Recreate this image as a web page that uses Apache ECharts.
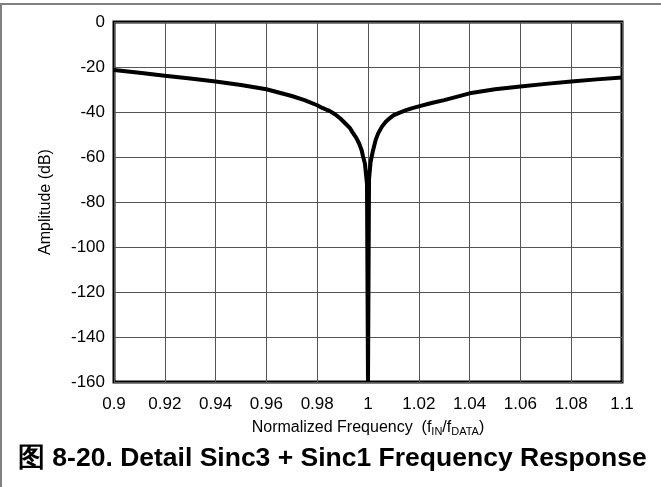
<!DOCTYPE html>
<html>
<head>
<meta charset="utf-8">
<script src="https://cdn.jsdelivr.net/npm/echarts@6/dist/echarts.min.js"></script>
<style>
  html, body { margin: 0; padding: 0; background: #fff; }
  #chart { width: 661px; height: 487px; }
</style>
</head>
<body>
<div id="chart"></div>
<script>
// 读图得到的数据 (归一化频率, 幅度 dB)
const freq = [
  0.90, 0.91, 0.92, 0.93, 0.94, 0.95, 0.96, 0.97, 0.975, 0.98,
  0.982, 0.985, 0.987, 0.989, 0.991, 0.993, 0.994, 0.9955, 0.9965,
  0.9975, 0.998, 0.9988, 0.9996, 1.0,
  1.0004, 1.001, 1.0015, 1.002, 1.003, 1.004, 1.0055, 1.007, 1.0085,
  1.01, 1.0125, 1.015, 1.0175, 1.02, 1.025,
  1.03, 1.04, 1.05, 1.06, 1.07, 1.08, 1.09, 1.10
];
const amplitude = [
  -21.3, -22.6, -23.9, -25.1, -26.4, -28.0, -29.9, -32.9, -34.7, -37.0,
  -38.2, -39.6, -41.0, -42.8, -45.0, -47.3, -49.2, -51.7, -54.0,
  -57.0, -59.5, -63.0, -72.0, -160,
  -70.0, -62.5, -59.5, -57.0, -52.5, -49.5, -46.5, -44.3, -42.8,
  -41.5, -40.3, -39.2, -38.3, -37.5, -36.0,
  -34.7, -31.7, -29.9, -28.7, -27.5, -26.4, -25.5, -24.7
];
const xTicks = { min: 0.9, max: 1.1, step: 0.02 };
const yTicks = { min: -160, max: 0, step: 20 };
const titleText = '图 8-20. Detail Sinc3 + Sinc1 Frequency Response';

const chart = echarts.init(document.getElementById('chart'));
const font = 'Liberation Sans, Arial, Helvetica, sans-serif';

chart.setOption({
  backgroundColor: '#fff',
  animation: false,
  grid: {
    left: 114, right: 39, top: 22, bottom: 105,
    show: true, borderColor: '#000', borderWidth: 3, backgroundColor: 'transparent'
  },
  xAxis: {
    type: 'value',
    min: xTicks.min, max: xTicks.max, interval: xTicks.step,
    axisLine: { show: false },
    axisTick: { show: false },
    splitLine: { show: true, lineStyle: { color: '#555', width: 1 } },
    axisLabel: {
      color: '#000', fontSize: 17, fontFamily: font, margin: 14,
      formatter: v => String(+v.toFixed(2))
    },
    name: '{n|Normalized Frequency  (f}{s|IN}{n|/f}{s|DATA}{n|)}',
    nameLocation: 'middle',
    nameGap: 36,
    nameTextStyle: {
      rich: {
        n: { fontSize: 16, fontFamily: font, color: '#000' },
        s: { fontSize: 11, fontFamily: font, color: '#000', padding: [8, 0, 0, 0] }
      }
    }
  },
  yAxis: {
    type: 'value',
    min: yTicks.min, max: yTicks.max, interval: yTicks.step,
    axisLine: { show: false },
    axisTick: { show: false },
    splitLine: { show: true, lineStyle: { color: '#555', width: 1 } },
    axisLabel: { color: '#000', fontSize: 17, fontFamily: font, margin: 9 },
    name: 'Amplitude (dB)',
    nameLocation: 'middle',
    nameGap: 60,
    nameTextStyle: { color: '#000', fontSize: 16, fontFamily: font }
  },
  series: [{
    type: 'line',
    data: freq.map((f, i) => [f, amplitude[i]]),
    showSymbol: false,
    smooth: false,
    clip: true,
    lineStyle: { color: '#000', width: 4 }
  }],
  graphic: [
    {
      type: 'rect',
      shape: { x: 1, y: 4, width: 900, height: 900 },
      style: { fill: 'none', stroke: '#808080', lineWidth: 2 },
      silent: true
    },
    {
      type: 'text',
      left: 18, top: 445,
      style: {
        text: titleText,
        fontSize: 26.5, fontWeight: 'bold', fontFamily: font, fill: '#000'
      }
    }
  ]
});
</script>
</body>
</html>
